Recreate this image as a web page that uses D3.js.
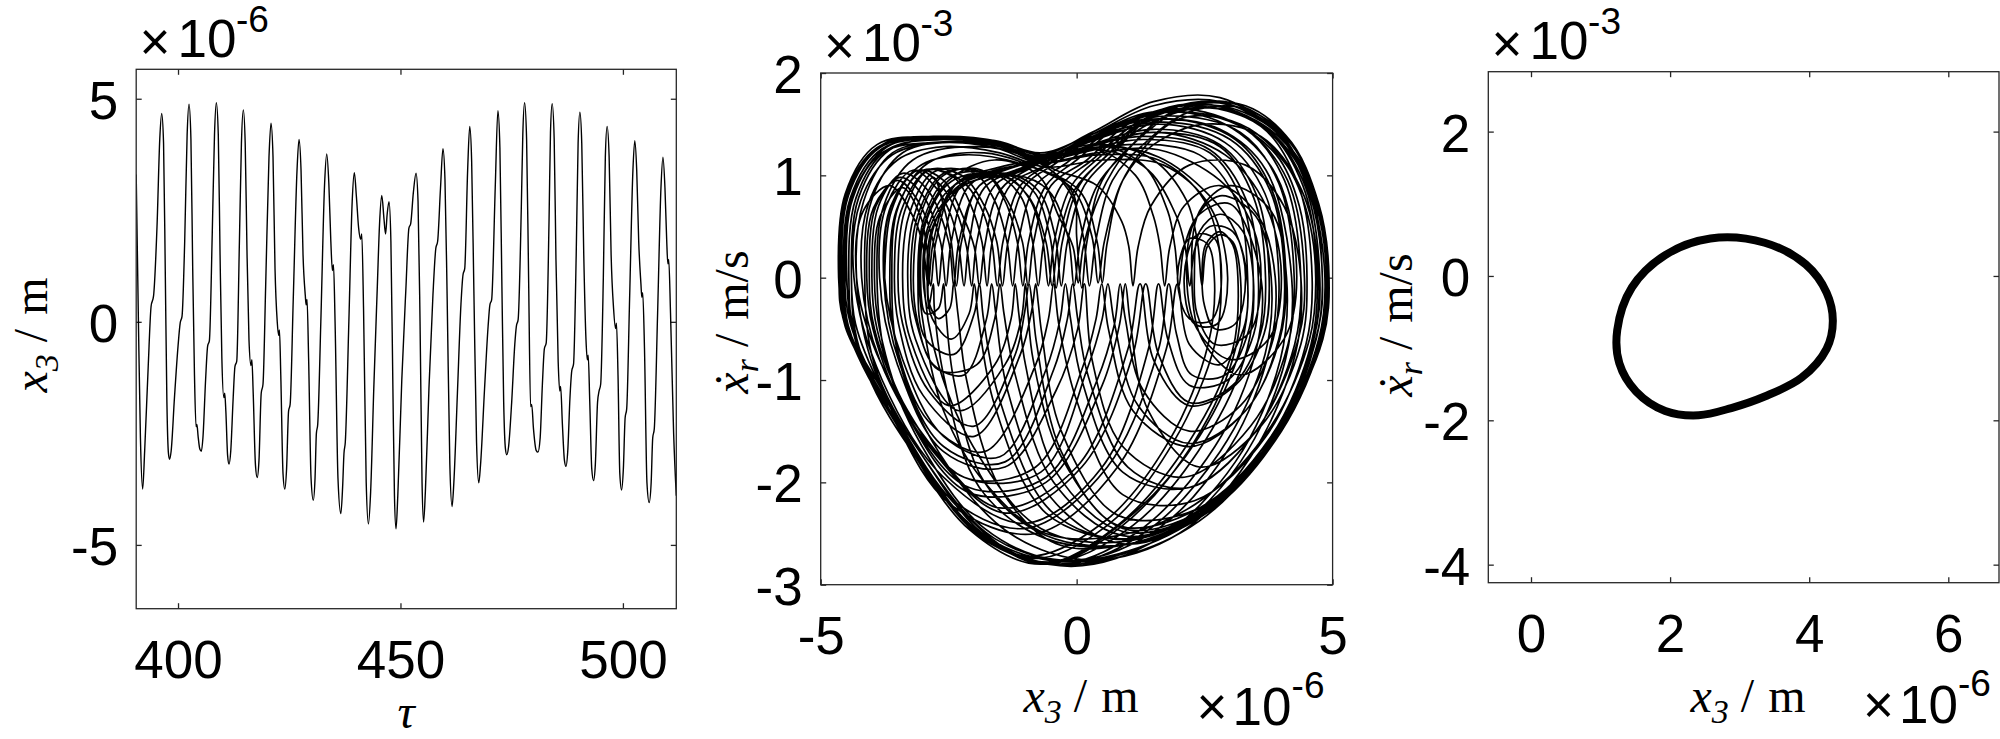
<!DOCTYPE html>
<html><head><meta charset="utf-8">
<script src="https://cdn.jsdelivr.net/npm/d3@7"></script>
<style>html,body{margin:0;padding:0;background:#fff;}svg{display:block;}</style>
</head><body>
<svg id="chart" width="2000" height="739"></svg>
<script>
// ---------- DATA ----------
// Panel 1: time series x3 (x1e-6 m) versus tau
const tauValues = [390.6,391.1,391.55,392.05,392.5,393.3,393.95,394.5,395.3,395.9,396.33,396.75,397.15,397.5,397.85,398.1,398.45,399.2,400.0,400.5,400.9,401.5,402.05,402.47,402.9,403.3,403.7,404.05,404.25,404.5,404.9,405.25,405.6,406.2,406.65,407.05,407.7,408.2,408.61,409.05,409.45,409.85,410.3,410.5,410.75,411.15,411.47,411.85,412.4,412.8,413.2,413.8,414.25,414.68,415.1,415.5,415.95,416.4,416.6,416.9,417.4,417.8,418.2,418.7,419.1,419.7,420.45,420.9,421.35,421.8,422.3,422.6,422.8,423.1,423.6,424.0,424.4,424.85,425.2,425.9,426.75,427.2,427.65,428.1,428.6,428.8,429.0,429.35,429.9,430.4,430.8,431.1,431.4,432.1,432.95,433.43,433.9,434.35,434.7,434.95,435.3,435.95,436.6,437.0,437.3,437.6,438.4,439.15,439.63,440.1,440.6,441.05,441.3,441.7,442.3,442.8,443.3,444.0,444.8,445.3,445.8,446.3,446.65,447.0,447.43,447.85,448.3,448.65,449.0,449.4,450.3,451.2,451.9,452.3,452.9,453.5,453.95,454.4,454.85,455.2,455.6,456.4,457.3,457.95,458.35,459.0,459.55,460.0,460.5,461.1,461.6,462.0,462.8,463.6,464.05,464.45,465.1,465.57,466.0,466.5,467.1,467.6,468.0,468.9,469.7,470.1,470.5,471.3,471.9,472.35,472.8,473.2,473.6,473.9,474.3,475.0,475.7,476.05,476.45,477.15,477.5,477.9,478.35,478.8,479.25,479.5,479.9,480.5,480.9,481.4,481.9,482.35,482.75,483.4,483.72,484.1,484.55,484.95,485.45,485.8,486.0,486.4,486.85,487.2,487.6,488.1,488.5,488.9,489.5,489.93,490.33,490.75,491.2,491.7,492.0,492.2,492.55,493.0,493.4,493.8,494.3,494.65,495.0,495.6,496.05,496.45,496.9,497.35,497.9,498.35,498.55,498.9,499.3,499.7,500.1,500.5,500.85,501.5,502.25,502.67,503.1,503.55,504.05,504.25,504.45,504.85,505.4,505.9,506.35,506.7,507.05,507.8,508.55,509.0,509.45,509.85,510.1,510.3,510.7,511.4,512.0];
const x3Values = [3.3,0.0,-2.6,-3.75,-2.9,-1.0,0.35,0.58,2.2,4.1,4.67,4.0,1.0,-1.8,-2.95,-3.08,-2.9,-1.7,-0.55,-0.02,0.12,1.8,4.2,4.88,4.1,1.2,-1.2,-2.35,-2.3,-2.55,-2.85,-2.9,-2.6,-1.3,-0.55,-0.42,2.0,4.2,4.91,4.2,1.5,-0.8,-1.7,-1.6,-2.0,-3.0,-3.19,-2.9,-1.7,-1.0,-0.88,1.8,4.0,4.75,4.0,1.6,-0.4,-0.98,-0.85,-1.6,-3.2,-3.49,-3.1,-1.6,-1.4,0.8,3.7,4.45,3.7,1.2,0.0,-0.3,-0.18,-1.2,-3.4,-3.75,-3.3,-2.0,-1.85,0.5,3.4,4.09,3.4,1.5,0.6,0.38,0.5,-0.8,-3.5,-4.0,-3.5,-2.5,-2.3,0.0,3.1,3.76,3.1,1.8,1.15,1.28,0.0,-3.5,-4.3,-3.7,-2.95,-2.7,0.0,2.7,3.34,2.8,2.1,1.85,1.97,0.3,-3.6,-4.53,-3.8,-1.5,0.8,2.2,2.83,2.3,1.97,2.4,2.69,1.8,-1.5,-3.9,-4.64,-3.9,-1.3,0.7,2.1,2.2,2.9,3.33,2.7,0.0,-3.6,-4.49,-3.8,-1.5,0.6,1.65,1.8,3.0,3.88,3.2,0.5,-3.2,-4.14,-3.6,-1.6,0.4,1.05,1.2,3.4,4.38,3.6,0.7,-2.7,-3.61,-3.2,-1.5,-0.1,0.38,0.5,3.0,4.73,3.9,0.8,-1.8,-2.85,-2.98,-2.8,-1.8,-0.5,-0.1,0.05,2.5,4.2,4.91,4.1,1.0,-1.9,-1.85,-2.4,-2.88,-2.92,-2.6,-1.4,-0.6,-0.48,2.3,4.25,4.89,4.1,1.4,-0.9,-1.55,-1.45,-2.3,-3.1,-3.24,-2.9,-1.7,-1.1,-0.95,1.5,4.0,4.7,4.0,1.5,-0.4,-0.85,-0.75,-1.8,-3.3,-3.56,-3.2,-1.8,-1.55,-1.4,1.0,3.7,4.38,3.7,1.5,0.3,-0.15,-0.03,-1.2,-3.4,-3.77,-3.3,-2.15,-1.95,0.5,3.4,4.06,3.4,1.8,0.85,0.55,0.65,-0.6,-3.6,-4.05,-3.6,-2.6,-2.4,0.2,3.0,3.69,3.0,1.8,1.3,1.4,0.2,-2.5,-3.9];
const tauTicks = [400, 450, 500];
const x3Ticks = [-5, 0, 5];

// Panel 2: phase trajectory (x3 in 1e-6 m, xr-dot in 1e-3 m/s), one loop per cycle
const phaseLoops = [
 [[-3.75,0],[-3.62,0.65],[-3.1,1.08],[-2.2,1.2],[-1.0,1.1],[0.05,0.85],[0.4,0.35],[0.5,-0.05],[0.6,0.35],[0.95,1.0],[2.0,1.55],[3.2,1.5],[4.1,1.1],[4.52,0.6],[4.67,0],[4.55,-0.6],[3.8,-1.45],[2.5,-2.15],[1.0,-2.5],[-0.6,-2.5],[-1.8,-2.0],[-2.6,-1.3],[-2.98,-0.5],[-3.08,0]],
 [[-3.08,0],[-2.96,0.55],[-2.5,0.95],[-1.6,1.15],[-0.75,1.0],[-0.35,0.6],[-0.07,0.3],[0.03,-0.05],[0.13,0.3],[0.45,0.8],[1.0,1.25],[1.9,1.62],[3.1,1.62],[4.1,1.3],[4.68,0.7],[4.88,0],[4.76,-0.6],[4.0,-1.45],[2.7,-2.2],[1.2,-2.58],[-0.4,-2.6],[-1.5,-2.05],[-2.15,-1.0],[-2.32,-0.35],[-2.4,-0.05],[-2.48,-0.3],[-2.7,-0.4],[-2.88,-0.25],[-2.9,0]],
 [[-2.9,0],[-2.79,0.5],[-2.3,0.9],[-1.5,1.0],[-0.95,0.8],[-0.6,0.35],[-0.48,-0.08],[-0.36,0.35],[-0.05,0.85],[0.5,1.15],[1.4,1.5],[2.6,1.66],[3.8,1.42],[4.62,0.8],[4.91,0],[4.79,-0.6],[4.0,-1.5],[2.6,-2.28],[0.9,-2.6],[-0.5,-2.15],[-1.35,-1.1],[-1.58,-0.35],[-1.66,-0.06],[-1.76,-0.4],[-2.2,-0.95],[-2.8,-0.85],[-3.12,-0.4],[-3.19,0]],
 [[-3.19,0],[-3.06,0.6],[-2.6,1.0],[-1.85,1.05],[-1.35,0.75],[-1.06,0.35],[-0.95,-0.08],[-0.84,0.35],[-0.5,0.9],[0.2,1.15],[1.0,1.5],[2.3,1.7],[3.6,1.5],[4.42,0.95],[4.75,0],[4.63,-0.6],[3.8,-1.55],[2.4,-2.25],[0.8,-2.42],[-0.3,-1.7],[-0.78,-0.65],[-0.86,-0.3],[-0.93,-0.06],[-1.02,-0.35],[-1.2,-0.75],[-2.0,-1.45],[-2.9,-1.1],[-3.4,-0.45],[-3.49,0]],
 [[-3.49,0],[-3.36,0.65],[-2.9,1.05],[-2.25,1.0],[-1.8,0.7],[-1.56,0.35],[-1.45,-0.08],[-1.34,0.35],[-1.0,0.9],[-0.4,1.12],[0.6,1.45],[2.0,1.65],[3.3,1.45],[4.12,0.95],[4.45,0],[4.33,-0.6],[3.5,-1.5],[2.2,-2.05],[0.9,-1.9],[0.1,-1.0],[-0.12,-0.4],[-0.22,-0.06],[-0.32,-0.4],[-0.6,-0.9],[-1.5,-1.75],[-2.6,-1.55],[-3.4,-0.8],[-3.75,0]],
 [[-3.75,0],[-3.62,0.7],[-3.1,1.05],[-2.6,0.95],[-2.22,0.6],[-2.0,0.3],[-1.9,-0.08],[-1.8,0.3],[-1.5,0.85],[-0.8,1.1],[0.3,1.35],[1.8,1.55],[3.1,1.35],[3.82,0.85],[4.09,0],[3.97,-0.6],[3.3,-1.3],[2.2,-1.65],[1.1,-1.3],[0.62,-0.5],[0.49,-0.06],[0.38,-0.4],[0.1,-0.9],[-0.8,-1.85],[-2.2,-1.95],[-3.3,-1.3],[-3.9,-0.5],[-4.0,0]],
 [[-4.0,0],[-3.87,0.7],[-3.4,1.02],[-2.9,0.85],[-2.5,0.35],[-2.4,-0.08],[-2.3,0.35],[-1.9,0.9],[-1.2,1.05],[0.0,1.25],[1.5,1.45],[2.8,1.3],[3.52,0.8],[3.76,0],[3.66,-0.55],[3.1,-1.05],[2.2,-1.25],[1.5,-0.8],[1.24,-0.06],[1.0,-0.7],[0.0,-1.85],[-1.5,-2.25],[-2.9,-1.6],[-3.9,-0.75],[-4.3,0]],
 [[-4.3,0],[-4.17,0.65],[-3.65,0.9],[-3.15,0.55],[-3.0,0.3],[-2.9,-0.08],[-2.8,0.35],[-2.4,0.9],[-1.6,1.05],[-0.5,1.15],[1.0,1.3],[2.4,1.2],[3.12,0.75],[3.34,0],[3.26,-0.5],[2.8,-0.85],[2.2,-0.65],[1.97,-0.06],[1.75,-0.7],[0.8,-1.85],[-0.8,-2.5],[-2.5,-2.2],[-3.7,-1.25],[-4.42,-0.45],[-4.53,0]],
 [[-4.53,0],[-4.41,0.75],[-3.8,1.22],[-2.8,1.32],[-1.6,1.27],[-0.7,1.12],[0.4,1.2],[1.6,1.15],[2.5,0.75],[2.83,0],[2.62,-0.42],[2.2,-0.4],[1.97,0],[2.2,0.38],[2.55,0.33],[2.69,0],[2.57,-0.65],[1.8,-1.6],[0.5,-2.4],[-1.0,-2.72],[-2.5,-2.2],[-3.8,-1.1],[-4.56,-0.4],[-4.64,0]],
 [[-4.64,0],[-4.51,0.8],[-3.9,1.27],[-2.9,1.37],[-1.6,1.32],[-0.7,1.17],[0.5,1.25],[1.4,1.05],[1.95,0.6],[2.12,0.3],[2.21,-0.08],[2.32,0.3],[2.6,0.5],[3.05,0.45],[3.33,0],[3.22,-0.65],[2.4,-1.55],[1.0,-2.35],[-0.5,-2.78],[-1.9,-2.5],[-3.3,-1.6],[-4.3,-0.65],[-4.49,0]],
 [[-4.49,0],[-4.36,0.8],[-3.7,1.28],[-2.6,1.37],[-1.4,1.3],[-0.6,1.18],[0.4,1.25],[1.15,1.0],[1.5,0.6],[1.63,0.3],[1.72,-0.08],[1.82,0.3],[2.1,0.7],[2.8,0.9],[3.55,0.6],[3.88,0],[3.77,-0.7],[3.0,-1.65],[1.6,-2.45],[0.0,-2.76],[-1.6,-2.55],[-3.0,-1.75],[-3.95,-0.85],[-4.14,0]],
 [[-4.14,0],[-4.01,0.75],[-3.4,1.22],[-2.3,1.33],[-1.2,1.25],[-0.4,1.05],[0.4,0.9],[0.88,0.55],[1.02,0.3],[1.1,-0.08],[1.2,0.3],[1.45,0.7],[2.2,1.1],[3.3,1.1],[4.05,0.7],[4.38,0],[4.27,-0.75],[3.4,-1.75],[2.0,-2.5],[0.3,-2.76],[-1.3,-2.5],[-2.7,-1.7],[-3.47,-0.8],[-3.61,0]],
 [[-3.61,0],[-3.48,0.7],[-2.9,1.12],[-1.8,1.22],[-0.7,1.05],[-0.05,0.85],[0.3,0.4],[0.42,-0.05],[0.54,0.35],[0.9,0.95],[1.5,1.3],[2.5,1.5],[3.6,1.38],[4.4,0.85],[4.73,0],[4.61,-0.65],[3.8,-1.55],[2.5,-2.25],[0.9,-2.58],[-0.7,-2.45],[-1.9,-1.75],[-2.7,-0.85],[-2.98,0]],
 [[-2.98,0],[-2.86,0.5],[-2.3,0.88],[-1.2,1.0],[-0.55,0.85],[-0.17,0.4],[-0.05,-0.08],[0.07,0.35],[0.4,0.9],[1.0,1.25],[1.8,1.6],[2.9,1.7],[4.0,1.38],[4.7,0.72],[4.91,0],[4.79,-0.6],[4.0,-1.45],[2.6,-2.2],[1.0,-2.55],[-0.6,-2.3],[-1.6,-1.25],[-1.92,-0.4],[-2.0,-0.06],[-2.1,-0.35],[-2.45,-0.6],[-2.82,-0.4],[-2.92,0]],
 [[-2.92,0],[-2.81,0.5],[-2.2,0.9],[-1.35,0.98],[-0.9,0.75],[-0.66,0.35],[-0.55,-0.08],[-0.44,0.35],[-0.1,0.9],[0.5,1.2],[1.4,1.55],[2.8,1.68],[4.0,1.38],[4.66,0.75],[4.89,0],[4.77,-0.6],[3.9,-1.55],[2.5,-2.28],[0.9,-2.52],[-0.45,-2.0],[-1.2,-0.95],[-1.42,-0.35],[-1.5,-0.06],[-1.6,-0.4],[-1.95,-0.85],[-2.7,-0.9],[-3.15,-0.4],[-3.24,0]],
 [[-3.24,0],[-3.11,0.6],[-2.6,1.02],[-1.8,1.02],[-1.4,0.75],[-1.16,0.35],[-1.05,-0.08],[-0.94,0.35],[-0.6,0.9],[0.0,1.15],[0.9,1.5],[2.3,1.68],[3.7,1.45],[4.42,0.9],[4.7,0],[4.58,-0.65],[3.8,-1.55],[2.4,-2.25],[0.8,-2.32],[-0.3,-1.5],[-0.68,-0.55],[-0.75,-0.25],[-0.8,-0.06],[-0.87,-0.3],[-1.1,-0.75],[-2.0,-1.55],[-3.0,-1.15],[-3.48,-0.45],[-3.56,0]],
 [[-3.56,0],[-3.43,0.65],[-2.9,1.05],[-2.25,0.95],[-1.88,0.7],[-1.66,0.35],[-1.55,-0.08],[-1.44,0.35],[-1.1,0.9],[-0.5,1.12],[0.5,1.42],[1.9,1.62],[3.3,1.45],[4.06,0.95],[4.38,0],[4.26,-0.65],[3.5,-1.5],[2.2,-2.05],[1.0,-1.85],[0.22,-0.95],[0.02,-0.4],[-0.08,-0.06],[-0.18,-0.4],[-0.45,-0.9],[-1.4,-1.8],[-2.6,-1.65],[-3.45,-0.85],[-3.77,0]],
 [[-3.77,0],[-3.63,0.7],[-3.1,1.05],[-2.65,0.9],[-2.35,0.65],[-2.15,0.3],[-2.05,-0.08],[-1.95,0.35],[-1.6,0.9],[-0.9,1.08],[0.2,1.35],[1.7,1.52],[3.0,1.35],[3.78,0.85],[4.06,0],[3.95,-0.6],[3.3,-1.3],[2.2,-1.62],[1.2,-1.25],[0.74,-0.45],[0.61,-0.06],[0.5,-0.4],[0.2,-0.9],[-0.7,-1.9],[-2.2,-1.95],[-3.3,-1.3],[-3.95,-0.5],[-4.05,0]],
 [[-4.05,0],[-3.92,0.7],[-3.45,0.98],[-3.0,0.8],[-2.66,0.35],[-2.55,-0.08],[-2.45,0.35],[-2.1,0.9],[-1.4,1.05],[0.0,1.25],[1.5,1.42],[2.8,1.28],[3.46,0.78],[3.69,0],[3.59,-0.55],[3.05,-1.05],[2.2,-1.22],[1.6,-0.75],[1.35,-0.06],[1.1,-0.75],[0.1,-1.85],[-1.4,-2.3],[-2.8,-1.7],[-3.85,-0.8],[-4.2,0]],
 [[-4.2,0],[-4.07,0.72],[-3.5,1.15],[-2.6,1.28],[-1.5,1.22],[-0.6,1.08],[0.5,1.15],[1.7,1.1],[2.6,0.7],[2.95,0],[2.75,-0.45],[2.3,-0.45],[2.1,0],[2.35,0.42],[2.7,0.38],[2.82,0],[2.7,-0.65],[1.9,-1.6],[0.6,-2.42],[-0.9,-2.74],[-2.4,-2.2],[-3.6,-1.3],[-4.45,-0.5],[-4.58,0]],
 [[-4.58,0],[-4.46,0.8],[-3.85,1.27],[-2.8,1.37],[-1.6,1.32],[-0.7,1.17],[0.5,1.3],[1.5,1.15],[2.15,0.75],[2.36,0.35],[2.45,-0.08],[2.55,0.3],[2.8,0.42],[3.05,0.35],[3.2,0],[3.1,-0.7],[2.3,-1.6],[0.9,-2.42],[-0.6,-2.8],[-2.0,-2.45],[-3.4,-1.5],[-4.38,-0.6],[-4.6,0]],
 [[-4.6,0],[-4.47,0.8],[-3.8,1.3],[-2.7,1.38],[-1.5,1.33],[-0.7,1.2],[0.4,1.3],[1.3,1.1],[1.78,0.65],[1.92,0.3],[2.0,-0.08],[2.1,0.3],[2.4,0.62],[3.0,0.72],[3.6,0],[3.5,-0.72],[2.7,-1.65],[1.2,-2.48],[-0.4,-2.8],[-2.0,-2.47],[-3.4,-1.5],[-4.3,-0.65],[-4.45,0]],
 [[-4.45,0],[-4.31,0.78],[-3.7,1.25],[-2.6,1.35],[-1.5,1.3],[-0.7,1.18],[0.3,1.38],[1.5,1.55],[2.8,1.45],[3.7,1.05],[4.2,0],[4.08,-0.8],[3.2,-1.8],[1.8,-2.5],[0.0,-2.78],[-1.7,-2.55],[-3.0,-1.75],[-3.95,-0.9],[-4.3,0]],
 [[-4.3,0],[-4.16,0.75],[-3.6,1.22],[-2.5,1.33],[-1.4,1.28],[-0.7,1.17],[0.3,1.4],[1.5,1.68],[2.8,1.72],[3.9,1.42],[4.55,0.9],[4.8,0],[4.72,-0.5],[4.0,-1.42],[2.7,-2.22],[1.2,-2.64],[-0.4,-2.76],[-1.8,-2.45],[-2.9,-1.75],[-3.7,-0.85],[-3.9,0]],
 [[-3.9,0],[-3.77,0.7],[-3.2,1.15],[-2.0,1.28],[-0.8,1.15],[-0.15,0.85],[0.13,0.4],[0.25,-0.08],[0.37,0.35],[0.7,0.95],[1.3,1.3],[2.2,1.62],[3.3,1.65],[4.2,1.3],[4.76,0.65],[4.93,0],[4.84,-0.5],[4.0,-1.42],[2.7,-2.22],[1.1,-2.6],[-0.6,-2.55],[-1.9,-2.05],[-2.6,-0.95],[-2.78,-0.3],[-2.8,-0.06],[-2.9,-0.3],[-3.0,0]],
 [[-3.0,0],[-2.89,0.52],[-2.4,0.9],[-1.4,1.02],[-0.75,0.85],[-0.42,0.4],[-0.3,-0.08],[-0.18,0.35],[0.15,0.9],[0.7,1.2],[1.5,1.58],[2.9,1.72],[4.1,1.38],[4.73,0.72],[4.93,0],[4.81,-0.6],[4.0,-1.45],[2.6,-2.22],[1.0,-2.56],[-0.5,-2.28],[-1.5,-1.2],[-1.82,-0.4],[-1.9,-0.06],[-2.0,-0.35],[-2.4,-0.75],[-2.95,-0.6],[-3.1,0]],
 [[-3.1,0],[-2.98,0.58],[-2.5,0.98],[-1.65,1.02],[-1.1,0.8],[-0.86,0.35],[-0.75,-0.08],[-0.64,0.35],[-0.3,0.9],[0.3,1.15],[1.2,1.52],[2.6,1.72],[3.9,1.45],[4.56,0.85],[4.85,0],[4.73,-0.6],[3.9,-1.55],[2.5,-2.28],[0.9,-2.48],[-0.4,-1.9],[-1.0,-0.85],[-1.13,-0.35],[-1.2,-0.06],[-1.28,-0.4],[-1.6,-0.85],[-2.5,-1.25],[-3.25,-0.6],[-3.4,0]],
 [[-3.4,0],[-3.27,0.62],[-2.8,1.03],[-2.0,1.02],[-1.6,0.75],[-1.36,0.35],[-1.25,-0.08],[-1.14,0.35],[-0.8,0.9],[-0.2,1.12],[0.8,1.48],[2.2,1.68],[3.6,1.48],[4.32,0.92],[4.6,0],[4.48,-0.65],[3.7,-1.55],[2.3,-2.18],[0.9,-2.12],[0.0,-1.2],[-0.35,-0.45],[-0.45,-0.06],[-0.55,-0.4],[-0.8,-0.85],[-1.8,-1.7],[-2.9,-1.4],[-3.55,-0.6],[-3.65,0]],
 [[-3.65,0],[-3.52,0.66],[-3.0,1.05],[-2.4,0.98],[-2.06,0.7],[-1.85,0.35],[-1.75,-0.08],[-1.65,0.35],[-1.3,0.9],[-0.6,1.1],[0.4,1.4],[1.8,1.58],[3.2,1.42],[3.95,0.92],[4.25,0],[4.13,-0.65],[3.4,-1.45],[2.1,-1.95],[0.9,-1.65],[0.3,-0.8],[0.15,-0.06],[0.02,-0.5],[-0.4,-1.1],[-1.4,-1.85],[-2.6,-1.7],[-3.5,-0.85],[-3.85,0]],
 [[-3.85,0],[-3.72,0.7],[-3.2,1.05],[-2.75,0.88],[-2.45,0.6],[-2.3,0.3],[-2.2,-0.08],[-2.1,0.35],[-1.8,0.88],[-1.0,1.08],[0.1,1.3],[1.6,1.5],[2.9,1.32],[3.68,0.82],[3.95,0],[3.84,-0.6],[3.2,-1.25],[2.2,-1.5],[1.3,-1.1],[0.95,-0.4],[0.85,-0.06],[0.74,-0.45],[0.4,-1.0],[-0.6,-1.95],[-2.1,-2.05],[-3.3,-1.35],[-3.98,-0.5],[-4.1,0]],
 [[-4.1,0],[-3.97,0.68],[-3.5,0.95],[-3.1,0.75],[-2.8,0.35],[-2.7,-0.08],[-2.6,0.35],[-2.25,0.9],[-1.5,1.05],[-0.2,1.22],[1.3,1.38],[2.6,1.25],[3.32,0.75],[3.55,0],[3.46,-0.55],[2.95,-1.0],[2.2,-1.05],[1.78,-0.6],[1.6,-0.06],[1.4,-0.7],[0.5,-1.85],[-1.0,-2.4],[-2.6,-1.95],[-3.8,-1.0],[-4.35,0]],
 [[-4.35,0],[-4.22,0.75],[-3.6,1.2],[-2.6,1.32],[-1.5,1.28],[-0.7,1.13],[0.4,1.22],[1.6,1.25],[2.8,0.95],[3.4,0.55],[3.6,0],[3.35,-0.55],[2.7,-0.65],[2.35,-0.35],[2.3,0],[2.4,0.45],[2.8,0.62],[3.25,0.45],[3.45,0],[3.33,-0.7],[2.5,-1.6],[1.1,-2.42],[-0.5,-2.78],[-2.0,-2.47],[-3.4,-1.52],[-4.45,-0.55],[-4.62,0]],
 [[-4.62,0],[-4.49,0.8],[-3.85,1.28],[-2.8,1.37],[-1.6,1.31],[-0.7,1.16],[0.5,1.28],[1.6,1.18],[2.6,0.8],[3.1,0.45],[3.3,0],[3.1,-0.45],[2.7,-0.5],[2.5,-0.28],[2.45,0],[2.52,0.32],[2.8,0.45],[3.05,0.32],[3.15,0],[3.05,-0.7],[2.2,-1.6],[0.8,-2.42],[-0.7,-2.8],[-2.1,-2.46],[-3.5,-1.45],[-4.4,-0.6],[-4.55,0]],
 [[-4.55,0],[-4.42,0.78],[-3.8,1.26],[-2.7,1.36],[-1.5,1.3],[-0.7,1.16],[0.4,1.3],[1.6,1.42],[2.9,1.2],[3.7,0.7],[4.0,0],[3.75,-0.6],[3.0,-0.8],[2.35,-0.5],[2.15,0],[2.3,0.55],[2.8,0.8],[3.5,0.6],[3.8,0],[3.68,-0.75],[2.8,-1.7],[1.3,-2.5],[-0.3,-2.8],[-1.9,-2.5],[-3.3,-1.6],[-4.25,-0.68],[-4.4,0]],
 [[-4.4,0],[-4.26,0.78],[-3.65,1.25],[-2.6,1.36],[-1.5,1.32],[-0.7,1.2],[0.3,1.42],[1.5,1.72],[2.8,1.76],[3.95,1.4],[4.6,0.9],[4.9,0],[4.82,-0.5],[4.0,-1.44],[2.7,-2.26],[1.3,-2.66],[-0.45,-2.8],[-1.8,-2.55],[-3.0,-1.85],[-4.0,-1.0],[-4.52,-0.48],[-4.65,0]],
 [[-4.65,0],[-4.52,0.82],[-3.9,1.3],[-2.8,1.38],[-1.6,1.34],[-0.7,1.22],[0.3,1.4],[1.5,1.62],[2.9,1.5],[3.9,1.0],[4.3,0],[4.05,-0.6],[3.2,-0.95],[2.45,-0.6],[2.25,0],[2.4,0.65],[3.0,0.9],[3.8,0.65],[4.1,0],[3.98,-0.8],[3.1,-1.8],[1.6,-2.55],[-0.1,-2.82],[-1.8,-2.56],[-3.1,-1.78],[-4.1,-0.92],[-4.5,0]],
 [[-4.5,0],[-4.37,0.78],[-3.8,1.22],[-2.6,1.32],[-1.4,1.25],[-0.5,1.05],[-0.05,0.8],[0.0,0.4],[0.1,-0.1],[0.2,0.35],[0.5,0.95],[1.2,1.35],[2.2,1.68],[3.3,1.68],[4.2,1.32],[4.74,0.68],[4.9,0],[4.81,-0.55],[4.0,-1.44],[2.7,-2.24],[1.1,-2.6],[-0.6,-2.52],[-1.8,-2.0],[-2.4,-1.0],[-2.56,-0.3],[-2.6,-0.06],[-2.7,-0.3],[-2.95,-0.35],[-3.05,0]],
 [[-3.05,0],[-2.94,0.55],[-2.45,0.94],[-1.5,1.02],[-0.85,0.85],[-0.52,0.4],[-0.4,-0.1],[-0.28,0.35],[0.05,0.9],[0.6,1.2],[1.4,1.55],[2.7,1.72],[3.9,1.42],[4.55,0.82],[4.8,0],[4.68,-0.6],[3.9,-1.55],[2.5,-2.26],[0.9,-2.45],[-0.3,-1.75],[-0.85,-0.8],[-0.95,-0.35],[-1.0,-0.06],[-1.08,-0.4],[-1.4,-0.85],[-2.3,-1.3],[-3.15,-0.6],[-3.3,0]],
 [[-3.3,0],[-3.18,0.6],[-2.8,0.98],[-2.6,0.7],[-2.45,0.35],[-2.35,-0.08],[-2.25,0.35],[-1.9,0.9],[-1.1,1.05],[0.0,1.3],[1.5,1.6],[2.9,1.55],[3.9,1.2],[4.35,0.7],[4.5,0],[4.38,-0.65],[3.6,-1.45],[2.4,-1.85],[1.4,-1.3],[1.05,-0.45],[0.95,-0.06],[0.84,-0.45],[0.5,-1.05],[-0.6,-2.0],[-2.1,-2.1],[-3.3,-1.35],[-3.85,-0.5],[-3.95,0]],
 [[-3.95,0],[-3.84,0.6],[-3.4,0.88],[-3.05,0.6],[-2.93,0.3],[-2.85,-0.08],[-2.75,0.35],[-2.35,0.92],[-1.5,1.08],[-0.2,1.2],[1.3,1.35],[2.6,1.22],[3.25,0.72],[3.45,0],[3.37,-0.5],[2.9,-0.95],[2.25,-0.95],[1.95,-0.55],[1.8,-0.06],[1.6,-0.7],[0.6,-1.85],[-1.0,-2.45],[-2.6,-2.1],[-3.8,-1.1],[-4.32,-0.45],[-4.4,0]]
];
const phaseXTicks = [-5, 0, 5];
const phaseYTicks = [-3, -2, -1, 0, 1, 2];

// Panel 3: limit cycle (x3 in 1e-6 m, xr-dot in 1e-3 m/s)
const limitCycle = [[2.58,0.52],[3.36,0.46],[3.95,0.16],[4.25,-0.23],[4.34,-0.62],[4.25,-1.01],[3.89,-1.41],[3.36,-1.67],[2.88,-1.83],[2.41,-1.93],[1.93,-1.87],[1.51,-1.6],[1.27,-1.21],[1.24,-0.75],[1.45,-0.16],[1.93,0.29]];
const cycleXTicks = [0, 2, 4, 6];
const cycleYTicks = [-4, -2, 0, 2];

// ---------- DRAWING ----------
const SANS = "'Liberation Sans', Arial, Helvetica, sans-serif";
const SERIF = "'Liberation Serif', 'Times New Roman', 'DejaVu Serif', serif";
const svg = d3.select('#chart');
svg.append('rect').attr('width', 2000).attr('height', 739).attr('fill', '#fff');
const defs = svg.append('defs');
const TICK = 5.5;
const fmt = d => (d < 0 ? '-' + (-d) : String(d));

function frame(p, id) {
  const x = d3.scaleLinear().domain(p.xDomain).range([p.left, p.right]);
  const y = d3.scaleLinear().domain(p.yDomain).range([p.bottom, p.top]);
  defs.append('clipPath').attr('id', id).append('rect')
    .attr('x', p.left).attr('y', p.top).attr('width', p.right - p.left).attr('height', p.bottom - p.top);
  const gb = svg.append('g').attr('transform', `translate(0,${p.bottom})`)
    .call(d3.axisBottom(x).tickValues(p.xTicks).tickSizeInner(-TICK).tickSizeOuter(0).tickPadding(31.5).tickFormat(fmt));
  const gl = svg.append('g').attr('transform', `translate(${p.left},0)`)
    .call(d3.axisLeft(y).tickValues(p.yTicks).tickSizeInner(-TICK).tickSizeOuter(0).tickPadding(18).tickFormat(fmt));
  const gt = svg.append('g').attr('transform', `translate(0,${p.top})`)
    .call(d3.axisTop(x).tickValues(p.xTicks).tickSizeInner(-TICK).tickSizeOuter(0).tickFormat(''));
  const gr = svg.append('g').attr('transform', `translate(${p.right},0)`)
    .call(d3.axisRight(y).tickValues(p.yTicks).tickSizeInner(-TICK).tickSizeOuter(0).tickFormat(''));
  [gb, gl, gt, gr].forEach(g => {
    g.select('.domain').remove();
    g.attr('color', '#262626');
    g.selectAll('line').attr('stroke-width', 1.3);
  });
  [gt, gr].forEach(g => g.selectAll('text').remove());
  [gb, gl].forEach(g => g.selectAll('text').attr('font-size', 53).attr('font-family', SANS).attr('fill', '#000'));
  gl.selectAll('text').attr('dy', '0.37em');
  return {x, y};
}
function box(p) {
  svg.append('rect').attr('x', p.left).attr('y', p.top)
    .attr('width', p.right - p.left).attr('height', p.bottom - p.top)
    .attr('fill', 'none').attr('stroke', '#262626').attr('stroke-width', 1.3);
}
function multTop(p, expo) {
  const g = svg.append('g').attr('font-family', SANS).attr('fill', '#000');
  g.append('text').attr('x', p.left + 3.3).attr('y', p.top - 9.5).attr('font-size', 53).text('×');
  g.append('text').attr('x', p.left + 41.3).attr('y', p.top - 12.5).attr('font-size', 53).text('10');
  g.append('text').attr('x', p.left + 99.8).attr('y', p.top - 37.5).attr('font-size', 37).text(expo);
}
function multBottom(p, expo) {
  const g = svg.append('g').attr('font-family', SANS).attr('fill', '#000');
  g.append('text').attr('x', p.right - 136).attr('y', p.bottom + 140).attr('font-size', 53).text('×');
  g.append('text').attr('x', p.right - 100).attr('y', p.bottom + 140).attr('font-size', 53).text('10');
  g.append('text').attr('x', p.right - 41).attr('y', p.bottom + 113).attr('font-size', 37).text(expo);
}
function labelX3(x, y, rotate) {
  const t = svg.append('text').attr('font-family', SERIF).attr('font-size', 48).attr('fill', '#000')
    .attr('text-anchor', 'middle')
    .attr('transform', rotate ? `translate(${x},${y}) rotate(-90)` : `translate(${x},${y})`);
  t.append('tspan').attr('font-style', 'italic').text('x');
  t.append('tspan').attr('font-style', 'italic').attr('font-size', 34).attr('dy', 11).text('3');
  t.append('tspan').attr('dy', -11).attr('dx', 12).text('/');
  t.append('tspan').attr('dx', 14).text('m');
}
function labelXr(x, y) {
  const t = svg.append('text').attr('font-family', SERIF).attr('font-size', 48).attr('fill', '#000')
    .attr('text-anchor', 'middle').attr('transform', `translate(${x},${y}) rotate(-90)`);
  t.append('tspan').attr('font-style', 'italic').text('ẋ');
  t.append('tspan').attr('font-style', 'italic').attr('font-size', 34).attr('dy', 10).text('r');
  t.append('tspan').attr('dy', -10).attr('dx', 12).text('/');
  t.append('tspan').attr('dx', 14).text('m/s');
}

// Panel 1
const p1 = {left: 136.2, right: 676.3, top: 69.3, bottom: 608.7, xDomain: [390.6, 512], yDomain: [-6.43, 5.66], xTicks: tauTicks, yTicks: x3Ticks};
const s1 = frame(p1, 'clip1');
const series1 = tauValues.map((t, i) => [t, x3Values[i]]);
svg.append('path').datum(series1).attr('clip-path', 'url(#clip1)')
  .attr('fill', 'none').attr('stroke', '#000').attr('stroke-width', 1.4).attr('stroke-linejoin', 'round')
  .attr('d', d3.line().x(d => s1.x(d[0])).y(d => s1.y(d[1])).curve(d3.curveMonotoneX));
box(p1);
multTop(p1, '-6');
labelX3(47, 335, true);
svg.append('text').attr('x', 406).attr('y', 728).attr('text-anchor', 'middle')
  .attr('font-family', SERIF).attr('font-style', 'italic').attr('font-size', 48).text('τ');

// Panel 2
const p2 = {left: 820.7, right: 1332.6, top: 73, bottom: 584.7, xDomain: [-5, 5], yDomain: [-3, 2], xTicks: phaseXTicks, yTicks: phaseYTicks};
const s2 = frame(p2, 'clip2');
const traj = [];
phaseLoops.forEach((loop, k) => loop.forEach((pt, j) => { if (!(k > 0 && j === 0)) traj.push(pt); }));
svg.append('path').datum(traj).attr('clip-path', 'url(#clip2)')
  .attr('fill', 'none').attr('stroke', '#000').attr('stroke-width', 1.7).attr('stroke-linejoin', 'round')
  .attr('d', d3.line().x(d => s2.x(d[0])).y(d => s2.y(d[1])).curve(d3.curveCatmullRom.alpha(0.5)));
box(p2);
multTop(p2, '-3');
multBottom(p2, '-6');
labelXr(748, 322);
labelX3(1081, 712, false);

// Panel 3
const p3 = {left: 1488.3, right: 1999, top: 71.7, bottom: 582.7, xDomain: [-0.614, 6.729], yDomain: [-4.25, 2.83], xTicks: cycleXTicks, yTicks: cycleYTicks};
const s3 = frame(p3, 'clip3');
svg.append('path').datum(limitCycle).attr('clip-path', 'url(#clip3)')
  .attr('fill', 'none').attr('stroke', '#000').attr('stroke-width', 8).attr('stroke-linejoin', 'round')
  .attr('d', d3.line().x(d => s3.x(d[0])).y(d => s3.y(d[1])).curve(d3.curveCatmullRomClosed.alpha(0.5)));
box(p3);
multTop(p3, '-3');
multBottom(p3, '-6');
labelXr(1412, 325);
labelX3(1748, 712, false);
</script>
</body></html>
